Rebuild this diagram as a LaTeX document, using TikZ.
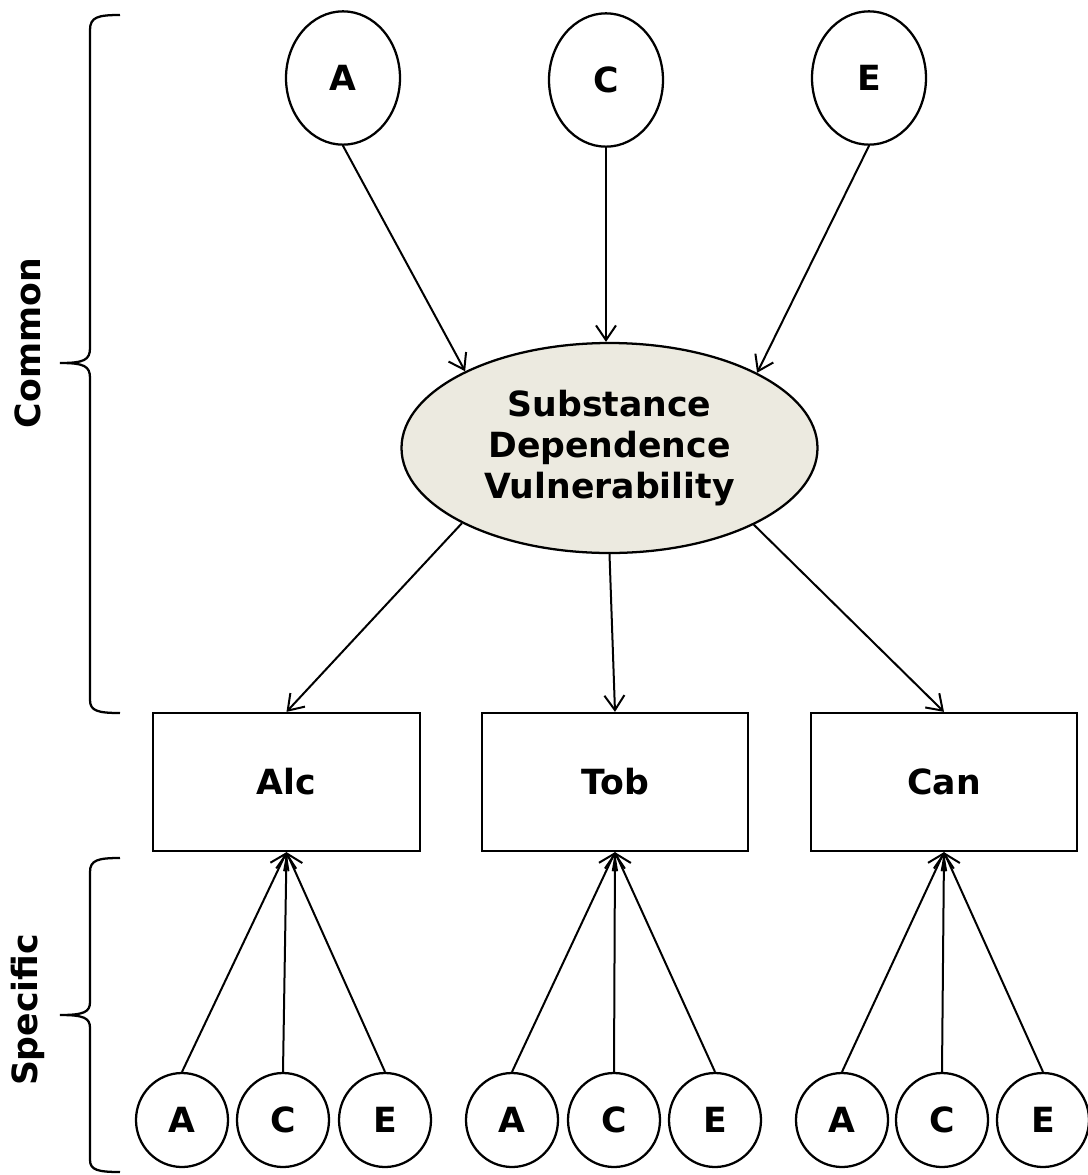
\documentclass[tikz,border=0pt]{standalone}
\usepackage{fontspec}
\setmainfont{DejaVu Sans}
\usetikzlibrary{shapes.geometric,arrows.meta}
\definecolor{sdvfill}{RGB}{236,234,224}
\tikzset{
  lbl/.style={font=\bfseries\fontsize{26}{31}\selectfont},
  topcirc/.style={ellipse,draw,line width=1.7pt,inner sep=0pt,minimum width=85.5pt,minimum height=100pt,lbl},
  botcirc/.style={ellipse,draw,line width=1.7pt,inner sep=0pt,minimum width=69pt,minimum height=70.5pt,lbl},
  obsbox/.style={rectangle,draw,line width=1.7pt,inner sep=0pt,minimum width=200pt,minimum height=103.5pt,lbl},
  latent/.style={ellipse,draw,line width=1.7pt,fill=sdvfill,inner sep=0pt,minimum width=312pt,minimum height=157.5pt,lbl,align=center},
  arr/.style={line width=1.5pt,-{Straight Barb[length=11pt,width=15pt,line width=1.5pt]}},
  brc/.style={line width=1.7pt},
}
\begin{document}
\begin{tikzpicture}[x=0.75pt,y=-0.75pt]
\useasboundingbox (0,0) rectangle (1088,1175);
% top circles
\node[topcirc] (ta) at (343,78) {A};
\node[topcirc] (tc) at (606,80) {C};
\node[topcirc] (te) at (869,78) {E};
% latent
\node[latent] (sdv) at (609.5,448) {Substance\\Dependence\\Vulnerability};
% boxes
\node[obsbox] (alc) at (286.5,782) {Alc};
\node[obsbox] (tob) at (615,782) {Tob};
\node[obsbox] (can) at (944,782) {Can};
% bottom circles
\node[botcirc] (a1) at (182,1120) {A};
\node[botcirc] (c1) at (283,1120) {C};
\node[botcirc] (e1) at (385,1120) {E};
\node[botcirc] (a2) at (512,1120) {A};
\node[botcirc] (c2) at (614,1120) {C};
\node[botcirc] (e2) at (715,1120) {E};
\node[botcirc] (a3) at (842,1120) {A};
\node[botcirc] (c3) at (942,1120) {C};
\node[botcirc] (e3) at (1043,1120) {E};
% arrows top
\draw[arr] (ta.south) -- (sdv.152.7);
\draw[arr] (tc.south) -- (sdv.north -| tc.south);
\draw[arr] (te.south) -- (sdv.27.3);
% arrows to boxes
\draw[arr] (sdv.207.5) -- (alc.north);
\draw[arr] (sdv.south) -- (tob.north);
\draw[arr] (sdv.332.5) -- (can.north);
% bottom arrows
\foreach \c/\b in {a1/alc,c1/alc,e1/alc,a2/tob,c2/tob,e2/tob,a3/can,c3/can,e3/can}
  \draw[arr] (\c.north) -- (\b.south);
% braces
\draw[brc] (120,15) .. controls (98,15) and (90,17) .. (90,30) -- (90,348)
  .. controls (90,360) and (84,363) .. (60,363)
  .. controls (84,363) and (90,366) .. (90,378) -- (90,700)
  .. controls (90,711) and (98,713) .. (120,713);
\draw[brc] (120,858) .. controls (98,858) and (90,860) .. (90,872) -- (90,1002)
  .. controls (90,1012) and (84,1015) .. (60,1015)
  .. controls (84,1015) and (90,1018) .. (90,1028) -- (90,1160)
  .. controls (90,1170) and (98,1172) .. (120,1172);
\node[lbl,rotate=90] (common) at (28,343) {Common};
\node[lbl,rotate=90] (specific) at (28,1010) {Specific};
\end{tikzpicture}
\end{document}
